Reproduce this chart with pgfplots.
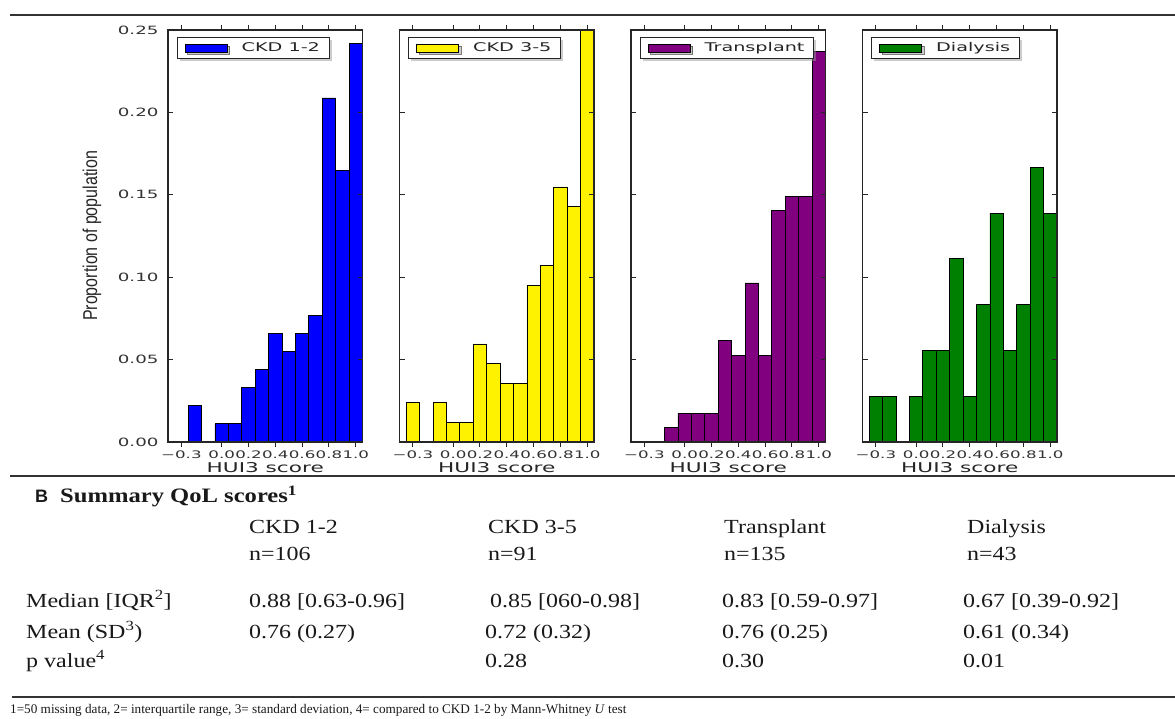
\documentclass[border=0pt]{standalone}
\usepackage{fontspec}
\setmainfont{Liberation Serif}
\usepackage{pgfplots}
\pgfplotsset{compat=1.18}
\usetikzlibrary{shadows}
\newfontfamily\mpl[FakeStretch=1.6]{DejaVu Sans}
\newfontfamily\narrowf[FakeStretch=0.8]{Liberation Sans}
\newfontfamily\tabf[FakeStretch=1.2]{Liberation Serif}
\newfontfamily\footf{Liberation Serif}
\newfontfamily\sansb{Liberation Sans}
\definecolor{mplpurple}{RGB}{128,0,128}
\definecolor{mplgreen}{RGB}{0,128,0}
\pgfplotsset{
  hist/.style={
    scale only axis, width=194.5pt, height=412pt,
    xmin=-0.4, xmax=1.05, ymin=0, ymax=0.25,
    xtick={-0.3,0,0.2,0.4,0.6,0.8,1.0},
    xticklabels={−0.3,0.0,0.2,0.4,0.6,0.8,1.0},
    ytick={0,0.05,0.1,0.15,0.2,0.25},
    tick align=inside, major tick length=5pt,
    axis on top=true,
    axis line style={line width=1.2pt, black!85},
    every tick/.style={black!85, line width=1pt},
    xticklabel style={font=\mpl\fontsize{10.4}{11}\selectfont, text=black!80, inner xsep=0pt, yshift=0pt},
    yticklabel style={font=\mpl\fontsize{11.4}{12}\selectfont, text=black!80, xshift=-6pt},
    xlabel={HUI3 score},
    every axis x label/.style={at={(axis description cs:0.5,0)}, anchor=north, yshift=-16.5pt,
      font=\mpl\fontsize{13.5}{15}\selectfont, text=black!85},
    ybar, bar width=0.1, bar shift=0pt,
    legend style={at={(0.046,0.983)}, anchor=north west, draw=black!85, line width=0.9pt,
      fill=white, inner xsep=7.5pt, inner ysep=3pt, column sep=12pt,
      nodes={inner sep=2pt, font=\mpl\fontsize{12}{14}\selectfont, text=black!85,
        text height=9pt, text depth=2pt},
      drop shadow={shadow xshift=2.5pt, shadow yshift=-2.5pt, fill=black!40}},
  }
}
\begin{document}
\begin{tikzpicture}
\path[use as bounding box] (0pt,0pt) rectangle (1175pt,718pt);
% ---------- panel 1
\begin{axis}[hist, at={(168pt,276pt)},
  yticklabels={0.00,0.05,0.10,0.15,0.20,0.25},
  ylabel={Proportion of population},
  every axis y label/.style={at={(axis description cs:-0.391,0.5)}, rotate=90, anchor=center,
    font=\narrowf\fontsize{20}{22}\selectfont, text=black!85},
  every axis plot post/.append style={legend image code/.code={\draw[fill=blue, draw=black, line width=0.8pt] (0pt,-4pt) rectangle (42pt,4pt);}}]
\addplot[fill=blue, draw=black, line width=0.8pt] coordinates {
(-0.2,0.02198) (0.0,0.01099) (0.1,0.01099) (0.2,0.03297) (0.3,0.04396) (0.4,0.06593)
(0.5,0.05495) (0.6,0.06593) (0.7,0.07692) (0.8,0.20879) (0.9,0.16484) (1.0,0.24176)};
\addlegendentry{CKD 1-2}
\end{axis}
% ---------- panel 2
\begin{axis}[hist, at={(399.5pt,276pt)}, yticklabels={},
  every axis plot post/.append style={legend image code/.code={\draw[fill=yellow, draw=black, line width=0.8pt] (0pt,-4pt) rectangle (42pt,4pt);}}]
\addplot[fill=yellow, draw=black, line width=0.8pt] coordinates {
(-0.3,0.02381) (-0.1,0.02381) (0.0,0.01190) (0.1,0.01190) (0.2,0.05952) (0.3,0.04762)
(0.4,0.03571) (0.5,0.03571) (0.6,0.09524) (0.7,0.10714) (0.8,0.15476) (0.9,0.14286) (1.0,0.25)};
\addlegendentry{CKD 3-5}
\end{axis}
% ---------- panel 3
\begin{axis}[hist, at={(631pt,276pt)}, yticklabels={},
  every axis plot post/.append style={legend image code/.code={\draw[fill=mplpurple, draw=black, line width=0.8pt] (0pt,-4pt) rectangle (42pt,4pt);}}]
\addplot[fill=mplpurple, draw=black, line width=0.8pt] coordinates {
(-0.1,0.00877) (0.0,0.01754) (0.1,0.01754) (0.2,0.01754) (0.3,0.06140) (0.4,0.05263)
(0.5,0.09649) (0.6,0.05263) (0.7,0.14035) (0.8,0.14912) (0.9,0.14912) (1.0,0.23684)};
\addlegendentry{Transplant}
\end{axis}
% ---------- panel 4
\begin{axis}[hist, at={(862.5pt,276pt)}, yticklabels={},
  every axis plot post/.append style={legend image code/.code={\draw[fill=mplgreen, draw=black, line width=0.8pt] (0pt,-4pt) rectangle (42pt,4pt);}}]
\addplot[fill=mplgreen, draw=black, line width=0.8pt] coordinates {
(-0.3,0.02778) (-0.2,0.02778) (0.0,0.02778) (0.1,0.05556) (0.2,0.05556) (0.3,0.11111)
(0.4,0.02778) (0.5,0.08333) (0.6,0.13889) (0.7,0.05556) (0.8,0.08333) (0.9,0.16667) (1.0,0.13889)};
\addlegendentry{Dialysis}
\end{axis}
% ---------- rules
\draw[line width=2.2pt, black!80] (10pt,703pt) -- (1175pt,703pt);
\draw[line width=2pt, black!80] (10pt,242pt) -- (1175pt,242pt);
\draw[line width=2pt, black!80] (12pt,21pt) -- (1175pt,21pt);
% ---------- table
\begin{scope}[every node/.style={anchor=base west, inner sep=0pt, text=black!90}]
\node at (35pt,215pt) {\sansb\bfseries\fontsize{18}{20}\selectfont B};
\node at (60pt,215pt) {\tabf\bfseries\fontsize{20.5}{24}\selectfont Summary QoL scores\textsuperscript{1}};
\node at (249pt,185pt) {\tabf\fontsize{20}{24}\selectfont CKD 1-2};
\node at (249pt,158pt) {\tabf\fontsize{20}{24}\selectfont n=106};
\node at (488pt,185pt) {\tabf\fontsize{20}{24}\selectfont CKD 3-5};
\node at (488pt,158pt) {\tabf\fontsize{20}{24}\selectfont n=91};
\node at (724pt,185pt) {\tabf\fontsize{20}{24}\selectfont Transplant};
\node at (724pt,158pt) {\tabf\fontsize{20}{24}\selectfont n=135};
\node at (967pt,185pt) {\tabf\fontsize{20}{24}\selectfont Dialysis};
\node at (967pt,158pt) {\tabf\fontsize{20}{24}\selectfont n=43};
\node at (26pt,111pt) {\tabf\fontsize{20}{24}\selectfont Median [IQR\textsuperscript{2}]};
\node at (26pt,80pt) {\tabf\fontsize{20}{24}\selectfont Mean (SD\textsuperscript{3})};
\node at (26pt,51pt) {\tabf\fontsize{20}{24}\selectfont p value\textsuperscript{4}};
\node at (249pt,111pt) {\tabf\fontsize{20}{24}\selectfont 0.88 [0.63-0.96]};
\node at (490pt,111pt) {\tabf\fontsize{20}{24}\selectfont 0.85 [060-0.98]};
\node at (722pt,111pt) {\tabf\fontsize{20}{24}\selectfont 0.83 [0.59-0.97]};
\node at (963pt,111pt) {\tabf\fontsize{20}{24}\selectfont 0.67 [0.39-0.92]};
\node at (249pt,80pt) {\tabf\fontsize{20}{24}\selectfont 0.76 (0.27)};
\node at (485pt,80pt) {\tabf\fontsize{20}{24}\selectfont 0.72 (0.32)};
\node at (722pt,80pt) {\tabf\fontsize{20}{24}\selectfont 0.76 (0.25)};
\node at (963pt,80pt) {\tabf\fontsize{20}{24}\selectfont 0.61 (0.34)};
\node at (485pt,51pt) {\tabf\fontsize{20}{24}\selectfont 0.28};
\node at (722pt,51pt) {\tabf\fontsize{20}{24}\selectfont 0.30};
\node at (963pt,51pt) {\tabf\fontsize{20}{24}\selectfont 0.01};
\node at (10pt,5pt) {\footf\fontsize{13.2}{15}\selectfont 1=50 missing data, 2= interquartile range, 3= standard deviation, 4= compared to CKD 1-2 by Mann-Whitney \textit{U} test};
\end{scope}
\end{tikzpicture}
\end{document}
